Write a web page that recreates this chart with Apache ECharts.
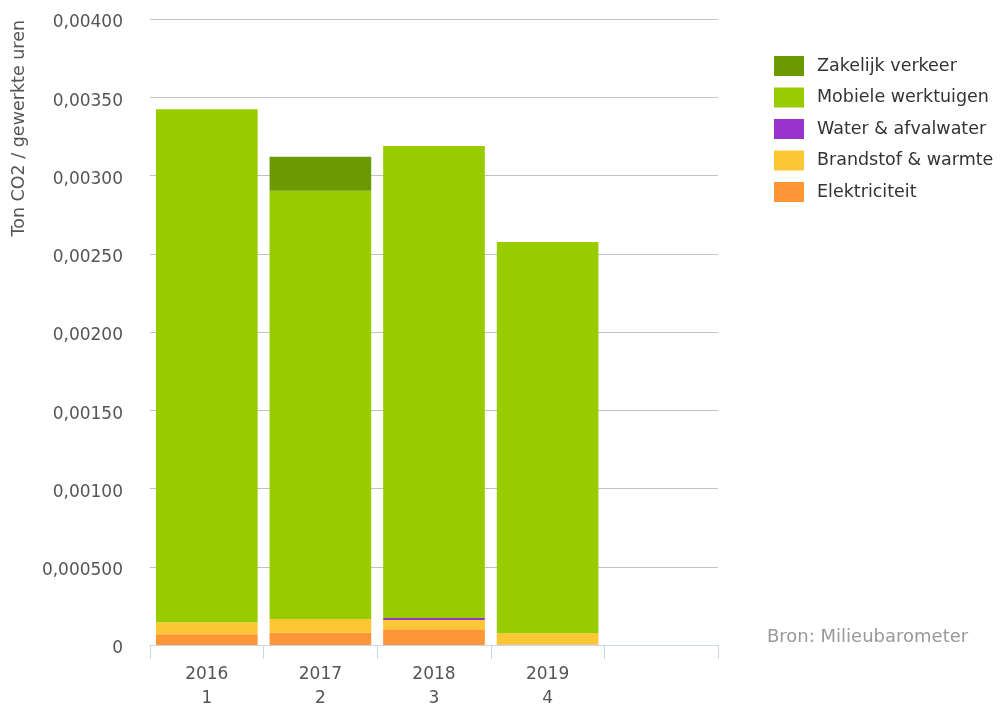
<!DOCTYPE html>
<html>
<head>
<meta charset="utf-8">
<script src="https://cdn.jsdelivr.net/npm/echarts@6/dist/echarts.min.js"></script>
<style>html,body{margin:0;padding:0;background:#fff}#c{width:1004px;height:708px}</style>
</head>
<body>
<div id="c"></div>
<script>
const categories = ['2016\n1', '2017\n2', '2018\n3', '2019\n4', ''];
const elektriciteit = [0.000068, 0.0000786, 0.0001, 0.000003, null];
const brandstof = [0.0000767, 0.0000875, 0.0000595, 0.000072, null];
const water = [0, 0, 0.0000128, 0, null];
const mobiele = [0.003278, 0.002737, 0.003016, 0.0025, null];
const zakelijk = [0, 0.000217, 0, 0, null];
const yTickLabels = ['0', '0,000500', '0,00100', '0,00150', '0,00200', '0,00250', '0,00300', '0,00350', '0,00400'];
const legendOrder = ['Zakelijk verkeer', 'Mobiele werktuigen', 'Water & afvalwater', 'Brandstof & warmte', 'Elektriciteit'];

const FONT = 'DejaVu Sans';
const chart = echarts.init(document.getElementById('c'));
function s(name, data, color) {
  return { name, type: 'bar', stack: 'tot', data, barCategoryGap: '10.5%',
    itemStyle: { color }, emphasis: { disabled: true } };
}
chart.setOption({
  animation: false,
  grid: { left: 150, right: 286, top: 19, bottom: 63, outerBoundsMode: 'none', containLabel: false },
  legend: {
    data: legendOrder, orient: 'vertical', left: 769, top: 51,
    itemWidth: 30, itemHeight: 20, itemGap: 11.5, icon: 'rect',
    textStyle: { fontFamily: FONT, fontSize: 17.5, color: '#333', padding: [0, 0, 0, 8] }
  },
  xAxis: {
    type: 'category', data: categories,
    axisLine: { lineStyle: { color: '#ccd6eb' } },
    axisTick: { show: true, length: 14, lineStyle: { color: '#ccd6eb' } },
    axisLabel: { fontFamily: FONT, fontSize: 17, color: '#555', margin: 18, lineHeight: 24 }
  },
  yAxis: {
    type: 'value', min: 0, max: 0.004, interval: 0.0005,
    axisLine: { show: false }, axisTick: { show: false },
    splitLine: { lineStyle: { color: '#c2c2c2' } },
    axisLabel: { fontFamily: FONT, fontSize: 17, color: '#555', margin: 27,
      verticalAlign: 'top', lineHeight: 8,
      formatter: (v, i) => yTickLabels[i] }
  },
  graphic: [
    { type: 'text', x: 19, y: 20, rotation: Math.PI / 2,
      style: { text: 'Ton CO2 / gewerkte uren', fontFamily: FONT, fontSize: 17.5, fill: '#555',
        align: 'right', verticalAlign: 'middle' } },
    { type: 'text', x: 767, y: 637,
      style: { text: 'Bron: Milieubarometer', fontFamily: FONT, fontSize: 18, fill: '#999',
        align: 'left', verticalAlign: 'middle' } }
  ],
  series: [
    s('Elektriciteit', elektriciteit, '#fd9636'),
    s('Brandstof & warmte', brandstof, '#fdc634'),
    s('Water & afvalwater', water, '#9933cc'),
    s('Mobiele werktuigen', mobiele, '#99cc00'),
    s('Zakelijk verkeer', zakelijk, '#6b9a00')
  ]
});
</script>
</body>
</html>
